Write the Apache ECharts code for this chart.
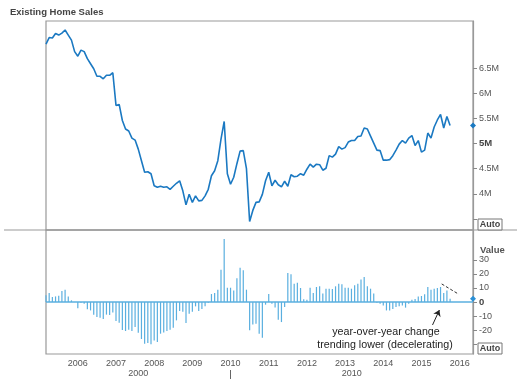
<!DOCTYPE html>
<html>
<head>
<meta charset="utf-8">
<script src="https://cdn.jsdelivr.net/npm/echarts@6/dist/echarts.min.js"></script>
<style>
html,body{margin:0;padding:0;background:#fff;}
#chart{width:525px;height:385px;}
</style>
</head>
<body>
<div id="chart"></div>
<script>
// Monthly data, March 2005 .. October 2015
var startYear = 2005;
var startMonth = 3; // March
var sales = [
6.98,7.11,7.10,7.19,7.16,7.20,7.26,7.16,7.06,6.83,
6.74,6.86,6.83,6.69,6.59,6.49,6.34,6.34,6.29,6.36,
6.36,6.41,5.76,5.78,5.46,5.29,5.25,5.11,5.07,4.89,
4.66,4.43,4.44,4.40,4.16,4.13,4.15,4.13,4.14,4.09,
4.15,4.21,4.26,4.06,3.78,3.99,3.83,3.96,3.86,3.87,
3.96,4.09,4.36,4.46,4.66,5.09,5.44,4.40,4.19,4.33,
4.60,4.85,4.86,4.50,3.45,3.67,3.83,3.84,3.99,4.26,
4.43,4.16,4.27,4.18,4.14,4.25,4.15,4.38,4.34,4.35,
4.40,4.37,4.49,4.59,4.53,4.59,4.58,4.47,4.51,4.76,
4.73,4.79,4.94,4.89,4.92,5.03,5.06,5.06,5.14,5.15,
5.31,5.29,5.15,5.01,4.87,4.86,4.67,4.67,4.68,4.76,
4.87,4.99,5.06,5.01,5.11,5.16,4.96,5.06,4.83,4.87,
5.21,5.11,5.33,5.47,5.58,5.31,5.54,5.36
];
var yoyChange = [
4.8,6.4,3.6,4.0,4.5,7.9,8.8,4.0,1.2,0.0,
-4.5,-0.5,-1.2,-5.2,-6.0,-9.0,-10.7,-11.2,-12.1,-9.0,
-9.3,-7.4,-13.6,-14.8,-20.0,-20.7,-19.8,-20.7,-17.9,-22.0,
-26.4,-29.8,-29.3,-30.2,-27.4,-28.6,-22.6,-21.7,-20.7,-19.8,
-18.3,-13.1,-6.4,-6.9,-15.0,-8.3,-6.9,-3.1,-6.4,-5.0,
-3.1,-0.5,5.7,6.4,8.8,23.0,45.0,10.2,10.2,8.3,
16.9,24.5,22.6,8.8,-20.2,-16.0,-15.5,-22.6,-25.5,-1.9,
5.7,-1.2,-4.0,-12.6,-14.3,-3.6,20.7,19.8,13.1,13.8,
10.0,1.9,1.7,10.2,6.4,10.7,11.2,6.0,9.5,9.5,
9.3,11.2,13.1,12.6,10.2,10.2,9.5,11.9,13.1,16.0,
17.9,11.2,9.5,6.0,-0.5,-1.2,-2.4,-6.0,-6.0,-5.0,
-3.6,-3.1,-2.4,-4.0,-1.2,1.7,2.1,4.0,4.3,5.5,
10.7,8.8,9.5,10.0,10.7,6.4,8.3,2.4
];
var yearTicks = [2006,2007,2008,2009,2010,2011,2012,2013,2014,2015,2016];
var decadeLabels = ['2000','2010'];
var salesTicks = [3.5,4,4.5,5,5.5,6,6.5];
var yoyTicks = [-30,-20,-10,0,10,20,30];
// annotation: dashed trend line and arrow [year, value]
var trendLine = [[2015.53,12.9],[2015.98,5.5]];
var arrowLine = [[2015.29,-16.4],[2015.47,-5.7]];

var X_MIN = startYear + (startMonth-1)/12;
var X_MAX = 2016.35;
function tOf(i){ return startYear + (startMonth-1+i)/12; }
var salesData = sales.map(function(v,i){ return [tOf(i), v]; });
var yoyData = yoyChange.map(function(v,i){ return [tOf(i), v]; });
var FONT = 'Liberation Sans';

var chart = echarts.init(document.getElementById('chart'));
chart.setOption({
  animation:false,
  textStyle:{fontFamily:FONT},
  title:{text:'Existing Home Sales',left:10,top:7,padding:0,
    textStyle:{fontSize:9.5,fontWeight:'bold',color:'#444',fontFamily:FONT}},
  grid:[
    {left:46,right:52,top:21,height:209,show:true,borderColor:'#999',borderWidth:1.2,outerBoundsMode:'none'},
    {left:46,right:52,top:230,height:124,show:true,borderColor:'#999',borderWidth:1.2,outerBoundsMode:'none'}
  ],
  xAxis:[
    {gridIndex:0,type:'value',min:X_MIN,max:X_MAX,axisLine:{show:false},axisTick:{show:false},axisLabel:{show:false},splitLine:{show:false}},
    {gridIndex:1,type:'value',position:'bottom',min:X_MIN,max:X_MAX,axisLine:{show:false},axisTick:{show:false},splitLine:{show:false},
      axisLabel:{customValues:yearTicks,formatter:function(v){return String(v);},fontSize:9,color:'#555',margin:5,fontFamily:FONT}},
    {gridIndex:1,type:'value',position:'bottom',min:X_MIN,max:X_MAX,axisLine:{show:false},axisTick:{show:false},splitLine:{show:false},
      axisLabel:{customValues:[(X_MIN+2010)/2,(2010+X_MAX)/2],formatter:function(v){return v<2010?decadeLabels[0]:decadeLabels[1];},fontSize:9,color:'#555',margin:15,fontFamily:FONT}},
    {gridIndex:1,type:'value',position:'bottom',offset:16,min:X_MIN,max:X_MAX,axisLine:{show:false},splitLine:{show:false},axisLabel:{show:false},
      axisTick:{show:true,customValues:[2010],length:9,lineStyle:{color:'#666',width:1}}}
  ],
  yAxis:[
    {gridIndex:0,type:'value',position:'right',min:3.28,max:7.44,splitLine:{show:false},
      axisLine:{show:true,lineStyle:{color:'#999',width:1.2}},
      axisTick:{show:true,customValues:salesTicks,length:4,lineStyle:{color:'#888'}},
      axisLabel:{customValues:salesTicks,margin:6,fontSize:9,color:'#555',fontFamily:FONT,
        formatter:function(v){ if(v===3.5) return ''; return v===5?'{b|5M}':(v+'M'); },
        rich:{b:{fontWeight:'bold',fontSize:9.5,color:'#444',fontFamily:FONT}}}},
    {gridIndex:1,type:'value',position:'right',min:-37.1,max:51.4,splitLine:{show:false},
      axisLine:{show:true,lineStyle:{color:'#999',width:1.2}},
      axisTick:{show:true,customValues:yoyTicks,length:4,lineStyle:{color:'#888'}},
      axisLabel:{customValues:yoyTicks,margin:6,fontSize:9,color:'#555',fontFamily:FONT,
        formatter:function(v){ if(v===-30) return ''; return v===0?'{b|0}':String(v); },
        rich:{b:{fontWeight:'bold',fontSize:9.5,color:'#444',fontFamily:FONT}}}}
  ],
  series:[
    {type:'line',xAxisIndex:0,yAxisIndex:0,data:salesData,showSymbol:false,
      lineStyle:{color:'#1b79c2',width:1.6},itemStyle:{color:'#1b79c2'},
      markPoint:{symbol:'diamond',symbolSize:6,label:{show:false},itemStyle:{color:'#1b79c2'},
        data:[{coord:[X_MAX,sales[sales.length-1]]}]}},
    {type:'bar',xAxisIndex:1,yAxisIndex:1,data:yoyData,barWidth:1.2,
      itemStyle:{color:'#5aafdf'},
      markPoint:{symbol:'diamond',symbolSize:6,label:{show:false},itemStyle:{color:'#2a8fd6'},
        data:[{coord:[X_MAX,yoyChange[yoyChange.length-1]]}]},
      markLine:{silent:true,symbol:['none','none'],label:{show:false},animation:false,
        data:[
          [{yAxis:0,x:46,lineStyle:{color:'#5aafdf',width:1.6,type:'solid'}},{yAxis:0,x:473}],
          [{coord:trendLine[0],lineStyle:{color:'#333',width:1,type:[3,2]}},{coord:trendLine[1]}],
          [{coord:arrowLine[0],symbol:'none',lineStyle:{color:'#222',width:1,type:'solid'}},{coord:arrowLine[1],symbol:'arrow',symbolSize:6}]
        ]}}
  ],
  graphic:[
    {type:'line',shape:{x1:4,y1:230,x2:517,y2:230},style:{stroke:'#999',lineWidth:1.2},z:100},
    {type:'text',left:480,top:245,style:{text:'Value',fontSize:9.5,fontWeight:'bold',fill:'#555',fontFamily:FONT}},
    {type:'rect',shape:{x:478,y:219,width:24,height:11},style:{fill:'#fff',stroke:'#777',lineWidth:1},z:100},
    {type:'text',x:490,y:224.5,style:{text:'Auto',fontSize:9,fontWeight:'bold',fill:'#444',align:'center',verticalAlign:'middle',fontFamily:FONT},z:101},
    {type:'rect',shape:{x:478,y:343,width:24,height:11},style:{fill:'#fff',stroke:'#777',lineWidth:1},z:100},
    {type:'text',x:490,y:348.5,style:{text:'Auto',fontSize:9,fontWeight:'bold',fill:'#444',align:'center',verticalAlign:'middle',fontFamily:FONT},z:101},
    {type:'text',x:386,y:332,style:{text:'year-over-year change',fontSize:10.7,fill:'#222',align:'center',verticalAlign:'middle',fontFamily:FONT}},
    {type:'text',x:385,y:345,style:{text:'trending lower (decelerating)',fontSize:10.7,fill:'#222',align:'center',verticalAlign:'middle',fontFamily:FONT}}
  ]
});
</script>
</body>
</html>
